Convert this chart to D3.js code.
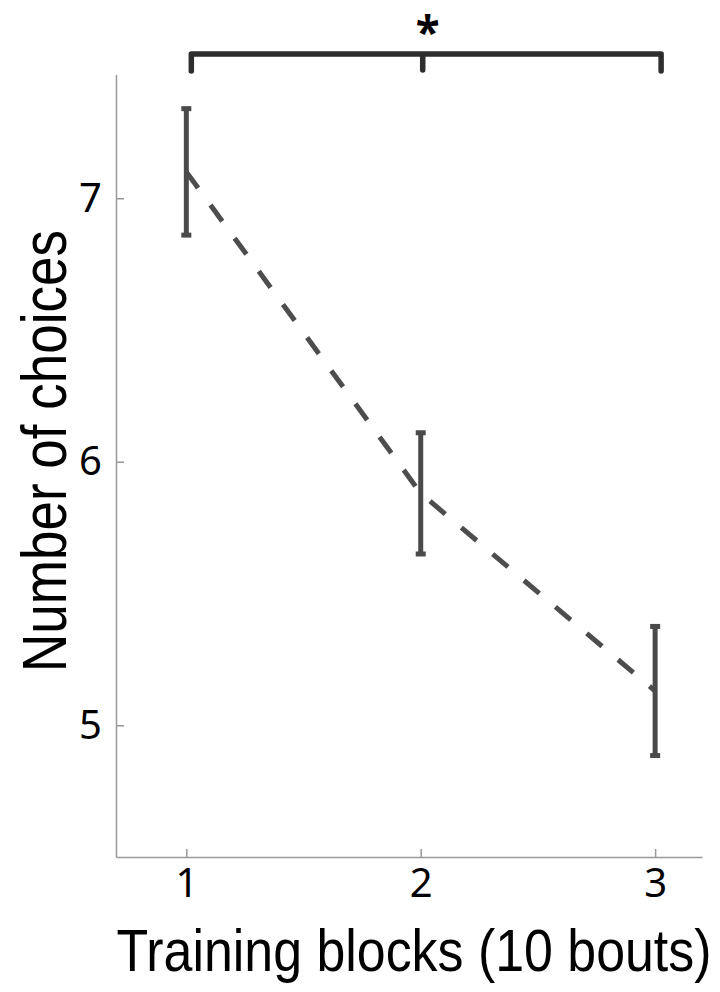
<!DOCTYPE html>
<html>
<head>
<meta charset="utf-8">
<script src="https://cdn.jsdelivr.net/npm/d3@7"></script>
<style>
  body { margin: 0; background: #fff; }
</style>
</head>
<body>
<script>
// data
const blocks = [1, 2, 3];
const means = [7.1, 5.88, 5.13];
const sems = [0.24, 0.23, 0.245];
const xTicks = [1, 2, 3];
const yTicks = [5, 6, 7];
const xTitle = "Training blocks (10 bouts)";
const yTitle = "Number of choices";
const sigLabel = "*";

const svg = d3.select("body")
    .append("svg")
    .attr("width", 720)
    .attr("height", 992);

const x = d3.scaleLinear()
    .domain([0.7, 3.2])
    .range([116, 702]);

const y = d3.scaleLinear()
    .domain([4.5, 7.47])
    .range([857, 74.4]);

const axisColor = "#999";
const tickFont = "'Noto Sans', 'Open Sans', sans-serif";
const titleFont = "'Liberation Sans', Arial, sans-serif";

// x axis
const gx = svg.append("g")
    .attr("transform", "translate(0," + y(4.5) + ")")
    .call(d3.axisBottom(x).tickValues(xTicks).tickFormat(d3.format("d"))
        .tickSize(-8).tickSizeOuter(0).tickPadding(12));

// y axis
const gy = svg.append("g")
    .attr("transform", "translate(" + x(0.7) + ",0)")
    .call(d3.axisLeft(y).tickValues(yTicks).tickFormat(d3.format("d"))
        .tickSize(-8).tickSizeOuter(0).tickPadding(14));

[gx, gy].forEach(function (g) {
    g.select(".domain").attr("stroke", axisColor).attr("stroke-width", 1.5);
    g.selectAll(".tick line").attr("stroke", axisColor).attr("stroke-width", 1.5);
    g.selectAll(".tick text")
        .attr("fill", "#000")
        .style("font-family", tickFont)
        .style("font-size", "40px");
});

// dashed mean line
const line = d3.line()
    .x(function (d, i) { return x(blocks[i]); })
    .y(function (d) { return y(d); });

svg.append("path")
    .datum(means)
    .attr("d", line)
    .attr("fill", "none")
    .attr("stroke", "#4d4d4d")
    .attr("stroke-width", 5)
    .attr("stroke-dasharray", "20,21");

// error bars
const errColor = "#4a4a4a";
blocks.forEach(function (b, i) {
    const cx = x(b);
    const top = y(means[i] + sems[i]);
    const bot = y(means[i] - sems[i]);
    svg.append("line")
        .attr("x1", cx).attr("x2", cx)
        .attr("y1", top).attr("y2", bot)
        .attr("stroke", errColor)
        .attr("stroke-width", 5);
    [top, bot].forEach(function (yy) {
        svg.append("line")
            .attr("x1", cx - 5).attr("x2", cx + 5)
            .attr("y1", yy).attr("y2", yy)
            .attr("stroke", errColor)
            .attr("stroke-width", 5);
    });
});

// significance bracket
const bx1 = x(1) + 5, bx2 = x(2) + 2, bx3 = x(3) + 6;
const bTop = 54, bBot = 71;
svg.append("path")
    .attr("d", "M" + bx1 + "," + bBot + "V" + bTop + "H" + bx3 + "V" + bBot +
        "M" + bx2 + "," + bTop + "V" + (bBot - 1))
    .attr("fill", "none")
    .attr("stroke", "#2e2e2e")
    .attr("stroke-width", 5.5)
    .attr("stroke-linecap", "round")
    .attr("stroke-linejoin", "round");

svg.append("text")
    .attr("x", bx2 + 5)
    .attr("y", 48)
    .attr("text-anchor", "middle")
    .style("font-family", tickFont)
    .style("font-weight", "bold")
    .style("font-size", "44px")
    .text(sigLabel);

// axis titles (narrowed horizontally like the original lettering)
svg.append("text")
    .attr("transform", "translate(414,971) scale(0.865,1)")
    .attr("text-anchor", "middle")
    .style("font-family", titleFont)
    .style("font-size", "60px")
    .text(xTitle);

svg.append("text")
    .attr("transform", "translate(66,451) rotate(-90) scale(0.855,1)")
    .attr("text-anchor", "middle")
    .style("font-family", titleFont)
    .style("font-size", "62px")
    .text(yTitle);
</script>
</body>
</html>
